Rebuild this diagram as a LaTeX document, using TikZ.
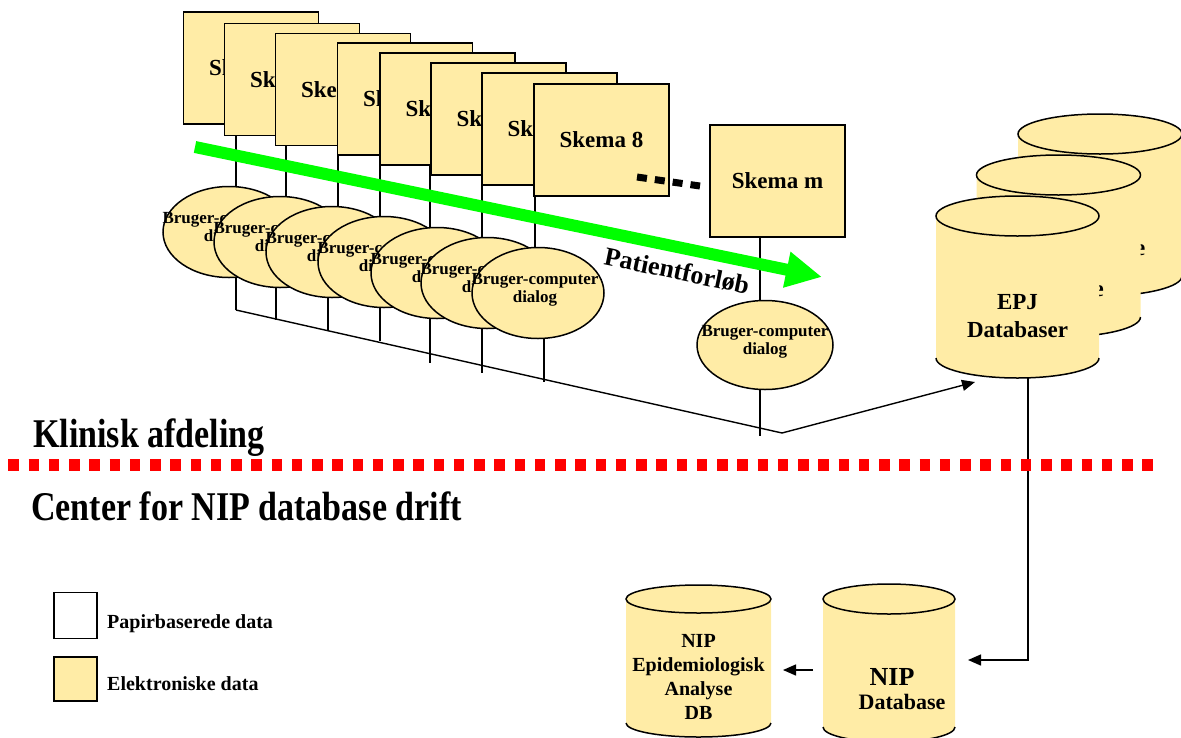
\documentclass[tikz,border=0pt]{standalone}
\usepackage{graphicx}
\usepackage{fontspec}
\setmainfont{Liberation Serif}
\usetikzlibrary{shapes.geometric,arrows.meta}
\definecolor{ylw}{RGB}{255,236,166}
\definecolor{grn}{RGB}{0,255,0}
\newcommand{\myfs}[2]{\fontsize{#1}{#2}\selectfont}
% name, cx, cy(top), rx, ry, h
\newcommand{\dbcyl}[6]{%
  \fill[ylw] ({#2-#4},#3) -- ({#2-#4},{#3+#6}) arc[start angle=180,end angle=0,x radius=#4,y radius=#5] -- ({#2+#4},#3) arc[start angle=0,end angle=-180,x radius=#4,y radius=#5] -- cycle;
  \draw[line width=1.5] (#2,#3) ellipse[x radius=#4,y radius=#5];
  \draw[line width=1.5] ({#2-#4},{#3+#6}) arc[start angle=180,end angle=0,x radius=#4,y radius=#5];
  \node[inner sep=0,outer sep=0,minimum width={2*#4},minimum height={#6+2*#5}] (#1) at (#2,{#3+#6/2}) {};
}
\begin{document}
\begin{tikzpicture}[x=1pt,y=-1pt,
  skbox/.style={draw,line width=1.5,fill=ylw,minimum width=135,minimum height=112,inner sep=0,text depth=-3pt,font=\bfseries\myfs{23}{26}},
  ell/.style={ellipse,draw,line width=1.5,fill=ylw,minimum width=132,minimum height=91,inner sep=0},
  elltxt/.style={align=center,inner sep=0,font=\bfseries\myfs{17}{18}},
  dbtxt/.style={align=center,inner sep=0,font=\bfseries\myfs{23}{28}},
  conn/.style={line width=1.4},
  arr/.style={conn,-{Triangle[length=13pt,width=11pt]}},
  legbox/.style={draw,line width=1.8,minimum width=43,minimum height=46,inner sep=0},
  legtxt/.style={anchor=west,inner sep=0,font=\bfseries\myfs{20}{22}},
  head/.style={anchor=base west,inner sep=0,font=\bfseries\myfs{34}{38}}]
\useasboundingbox (0,0) rectangle (1181,737);

% named free ends
\coordinate (t1) at (236,310);
\coordinate (t2) at (276,320);
\coordinate (t3) at (328,331);
\coordinate (t4) at (380,341);
\coordinate (t5) at (430,363);
\coordinate (t6) at (482,373);
\coordinate (t7) at (544,382);
\coordinate (tm) at (760,436);
\coordinate (vert) at (782,433);
\coordinate (epjin) at (975,382);
\coordinate (nipin) at (968,660);
\coordinate (nipout) at (813,670);
\coordinate (epiin) at (783,670);
\coordinate (gs) at (195,147);
\coordinate (ge) at (822,277);
\coordinate (ds) at (637,177);
\coordinate (de) at (700,186);
\coordinate (rs) at (8.3,464.5);
\coordinate (re) at (1153,464.5);

\path (251,68) coordinate (pb1) (292,79.5) coordinate (pb2) (343,89.5) coordinate (pb3)
      (405,99) coordinate (pb4) (447.5,109) coordinate (pb5) (498.5,119) coordinate (pb6)
      (549.5,129) coordinate (pb7) (601.5,140) coordinate (pb8);
\path (229,232) coordinate (pe1) (280,242) coordinate (pe2) (332,252) coordinate (pe3)
      (384,262) coordinate (pe4) (437,273) coordinate (pe5) (487,283) coordinate (pe6)
      (538,293) coordinate (pe7);

% upper connectors (box -> ellipse)
\draw[conn] (236,124) -- (236,232);
\draw[conn] (286,136) -- (286,242);
\draw[conn] (338,146) -- (338,252);
\draw[conn] (380,156) -- (380,262);
\draw[conn] (430,166) -- (430,273);
\draw[conn] (482,176) -- (482,283);
\draw[conn] (535,186) -- (535,293);
% lower connectors (ellipse -> base line)
\draw[conn] (236,232) -- (t1);
\draw[conn] (276,242) -- (t2);
\draw[conn] (328,252) -- (t3);
\draw[conn] (380,262) -- (t4);
\draw[conn] (430,273) -- (t5);
\draw[conn] (482,283) -- (t6);
\draw[conn] (544,293) -- (t7);

% Skema boxes
\node[skbox] (b1) at (pb1) {Skema 1};
\node[skbox] (b2) at (pb2) {Skema 2};
\node[skbox] (b3) at (pb3) {Skema 3};
\node[skbox] (b4) at (pb4) {Skema 4};
\node[skbox] (b5) at (pb5) {Skema 5};
\node[skbox] (b6) at (pb6) {Skema 6};
\node[skbox] (b7) at (pb7) {Skema 7};
\node[skbox] (b8) at (pb8) {Skema 8};

% dialog ellipses
\node[ell] (e1) at (pe1) {};
\node[elltxt] (e1t) at ([xshift=-3,yshift=3]e1.center) {Bruger-computer\\dialog};
\node[ell] (e2) at (pe2) {};
\node[elltxt] (e2t) at ([xshift=-3,yshift=3]e2.center) {Bruger-computer\\dialog};
\node[ell] (e3) at (pe3) {};
\node[elltxt] (e3t) at ([xshift=-3,yshift=3]e3.center) {Bruger-computer\\dialog};
\node[ell] (e4) at (pe4) {};
\node[elltxt] (e4t) at ([xshift=-3,yshift=3]e4.center) {Bruger-computer\\dialog};
\node[ell] (e5) at (pe5) {};
\node[elltxt] (e5t) at ([xshift=-3,yshift=3]e5.center) {Bruger-computer\\dialog};
\node[ell] (e6) at (pe6) {};
\node[elltxt] (e6t) at ([xshift=-3,yshift=3]e6.center) {Bruger-computer\\dialog};
\node[ell] (e7) at (pe7) {};
\node[elltxt] (e7t) at ([xshift=-3,yshift=3]e7.center) {Bruger-computer\\dialog};

% Skema m and its dialog
\node[skbox] (bm) at (777.5,181) {Skema m};
\node[ell,minimum width=136,minimum height=89] (em) at (765,345) {};
\draw[conn] ([xshift=-17.5]bm.south) -- ([xshift=-5]em.north);
\draw[conn] ([xshift=-5]em.south) -- (tm);
\node[elltxt] (emt) at ([yshift=3]em.center) {Bruger-computer\\dialog};

% dots between Skema 8 and Skema m
\draw[line width=7,dash pattern=on 10 off 8] (ds) -- (de);

% base line to EPJ
\draw[arr] (t1) -- (vert) -- (epjin);

% green patient-flow arrow
\draw[grn,line width=12,-{Triangle[length=36pt,width=34pt]}] (gs) -- (ge);
\node[rotate=-11.7,inner sep=0,font=\bfseries\myfs{26}{28}] (pf) at (677,271) {Patientforløb};

% EPJ databases
\dbcyl{epj3}{1100}{134}{82}{20}{142}
\node[dbtxt] (epj3t) at (1100,234) {EPJ\\Database};
\dbcyl{epj2}{1058.5}{175}{82}{20}{142}
\node[dbtxt] (epj2t) at (1058.5,275) {EPJ\\Database};
\dbcyl{epj}{1017.5}{216}{81.5}{20}{142}
\node[dbtxt] (epjt) at (1017.5,316) {EPJ\\Databaser};

% NIP databases
\dbcyl{nip}{889}{599}{66}{15}{128}
\node[inner sep=0,font=\bfseries\myfs{26}{28}] (nipt1) at (892,677) {NIP};
\node[inner sep=0,font=\bfseries\myfs{22}{24}] (nipt2) at (902,702) {Database};
\dbcyl{epi}{698.5}{599}{72.5}{14}{124}
\node[align=center,inner sep=0,font=\bfseries\myfs{20}{24}] (epit) at (698.5,677) {NIP\\Epidemiologisk\\Analyse\\DB};

% connectors between databases
\draw[arr] ([xshift=10.5]epj.south) |- (nipin);
\draw[arr] (nipout) -- (epiin);

% divider and headings
\draw[red,line width=12,dash pattern=on 10.5 off 9.75] (rs) -- (re);
\node[head] (klin) at (33,447) {\scalebox{1}[1.2]{Klinisk afdeling}};
\node[head] (center) at (31,520) {\scalebox{1}[1.2]{Center for NIP database drift}};

% legend
\node[legbox,fill=white] (lg1) at (75.5,615.5) {};
\node[legtxt] (lg1t) at (107,624) {Papirbaserede data};
\node[legbox,fill=ylw,minimum height=44] (lg2) at (75.5,679) {};
\node[legtxt] (lg2t) at (107,684) {Elektroniske data};
\end{tikzpicture}
\end{document}
